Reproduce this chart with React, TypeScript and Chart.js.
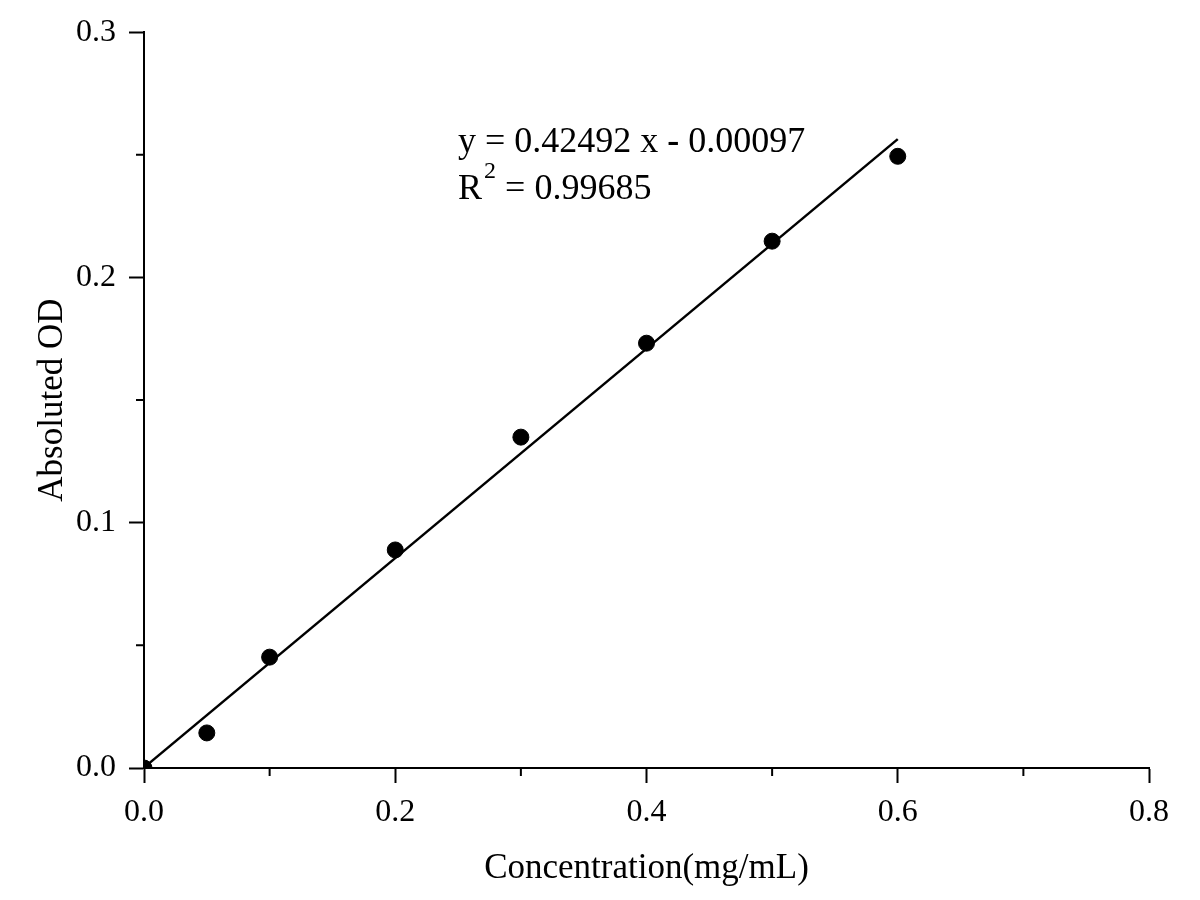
import React, { useEffect, useRef } from "react";
import { Chart, registerables, Plugin } from "chart.js";

Chart.register(...registerables);

// measured standard curve
const concentration = [0, 0.05, 0.1, 0.2, 0.3, 0.4, 0.5, 0.6];
const absorbance = [0.0, 0.0143, 0.0452, 0.0889, 0.1349, 0.1732, 0.2148, 0.2494];

// fitted line as drawn (end points) and its label
const fitLineX = [0, 0.6];
const fitLineY = [0.0002, 0.2564];
const fitSlope = "0.42492";
const fitIntercept = "0.00097";
const rSquared = "0.99685";

const xTitle = "Concentration(mg/mL)";
const yTitle = "Absoluted OD";

const FONT = '"Liberation Serif", "Times New Roman", serif';

const isMajor = (v: number) => Math.abs(v * 10 - Math.round(v * 10)) < 1e-6;

// short minor ticks, drawn outside the plot like the major ones
const minorTicks: Plugin = {
    id: "minorTicks",
    afterDraw(chart) {
        const {ctx, chartArea} = chart;
        const xs = chart.scales.x;
        const ys = chart.scales.y;
        ctx.save();
        ctx.strokeStyle = "#000";
        ctx.lineWidth = 2;
        ctx.beginPath();
        xs.ticks.forEach(t => {
            if (Math.round(t.value * 10) % 2 !== 0) {
                const px = xs.getPixelForValue(t.value);
                ctx.moveTo(px, chartArea.bottom);
                ctx.lineTo(px, chartArea.bottom + 8);
            }
        });
        ys.ticks.forEach(t => {
            if (!isMajor(t.value)) {
                const py = ys.getPixelForValue(t.value);
                ctx.moveTo(chartArea.left - 8, py);
                ctx.lineTo(chartArea.left, py);
            }
        });
        ctx.stroke();
        ctx.restore();
    }
};

// fit equation and R²
const equationText: Plugin = {
    id: "equationText",
    afterDatasetsDraw(chart) {
        const {ctx} = chart;
        const x0 = chart.scales.x.getPixelForValue(0.25);
        const y0 = chart.scales.y.getPixelForValue(0.2511);
        ctx.save();
        ctx.fillStyle = "#000";
        ctx.textBaseline = "alphabetic";
        ctx.textAlign = "left";
        const normal = `36px ${FONT}`;
        const bold = `bold 36px ${FONT}`;

        ctx.font = normal;
        let cx = x0;
        const part1 = `y = ${fitSlope} x `;
        ctx.fillText(part1, cx, y0);
        cx += ctx.measureText(part1).width;
        ctx.font = bold;
        ctx.fillText("-", cx, y0);
        cx += ctx.measureText("-").width;
        ctx.font = normal;
        ctx.fillText(` ${fitIntercept}`, cx, y0);

        const y1 = y0 + 47;
        cx = x0;
        ctx.fillText("R", cx, y1);
        cx += ctx.measureText("R").width;
        ctx.font = `24px ${FONT}`;
        ctx.fillText("2", cx + 2, y1 - 21);
        cx += ctx.measureText("2").width + 2;
        ctx.font = normal;
        ctx.fillText(` = ${rSquared}`, cx, y1);
        ctx.restore();
    }
};

export default function App() {
    const canvasRef = useRef<HTMLCanvasElement>(null);

    useEffect(() => {
        if (!canvasRef.current) return;
        Chart.defaults.color = "#000";

        const chart = new Chart(canvasRef.current, {
            type: "scatter",
            data: {
                datasets: [
                    {
                        type: "line",
                        label: "fit",
                        data: fitLineX.map((x, i) => ({x, y: fitLineY[i]})),
                        borderColor: "#000",
                        borderWidth: 2.5,
                        pointRadius: 0,
                        fill: false,
                    },
                    {
                        label: "OD",
                        data: concentration.map((x, i) => ({x, y: absorbance[i]})),
                        backgroundColor: "#000",
                        borderColor: "#000",
                        pointRadius: 8,
                        pointHoverRadius: 8,
                        clip: 0,
                    },
                ],
            },
            options: {
                animation: false,
                responsive: true,
                maintainAspectRatio: false,
                layout: {padding: {top: 32, right: 51, left: 0, bottom: 0}},
                plugins: {legend: {display: false}, tooltip: {enabled: false}},
                scales: {
                    x: {
                        type: "linear",
                        min: 0,
                        max: 0.8,
                        afterFit: (s: any) => { s.height = 132; },
                        ticks: {
                            stepSize: 0.1,
                            autoSkip: false,
                            maxRotation: 0,
                            padding: 10,
                            font: {family: FONT, size: 32},
                            callback: (v: any) => Math.round(Number(v) * 10) % 2 === 0 ? Number(v).toFixed(1) : "",
                        },
                        grid: {
                            drawOnChartArea: false,
                            drawTicks: true,
                            tickLength: 15,
                            tickWidth: 2,
                            tickColor: (c: any) => Math.round(c.tick.value * 10) % 2 === 0 ? "#000" : "rgba(0,0,0,0)",
                        },
                        border: {display: true, color: "#000", width: 2, z: 1},
                        title: {
                            display: true,
                            text: xTitle,
                            font: {family: FONT, size: 35},
                            padding: {top: 0, bottom: 10},
                        },
                    },
                    y: {
                        type: "linear",
                        min: 0,
                        max: 0.3,
                        afterFit: (s: any) => { s.width = 144; },
                        ticks: {
                            stepSize: 0.05,
                            autoSkip: false,
                            padding: 13,
                            font: {family: FONT, size: 32},
                            callback: (v: any) => isMajor(Number(v)) ? Number(v).toFixed(1) : "",
                        },
                        grid: {
                            drawOnChartArea: false,
                            drawTicks: true,
                            tickLength: 15,
                            tickWidth: 2,
                            tickColor: (c: any) => isMajor(c.tick.value) ? "#000" : "rgba(0,0,0,0)",
                        },
                        border: {display: true, color: "#000", width: 2, z: 1},
                        title: {
                            display: true,
                            text: yTitle,
                            font: {family: FONT, size: 35},
                            padding: {top: 32, bottom: 0},
                        },
                    },
                },
            },
            plugins: [minorTicks, equationText],
        });

        return () => chart.destroy();
    }, []);

    return (
        <div style={{position: "fixed", left: 0, top: 0, width: 1200, height: 900, background: "#fff"}}>
            <canvas ref={canvasRef} />
        </div>
    );
}
